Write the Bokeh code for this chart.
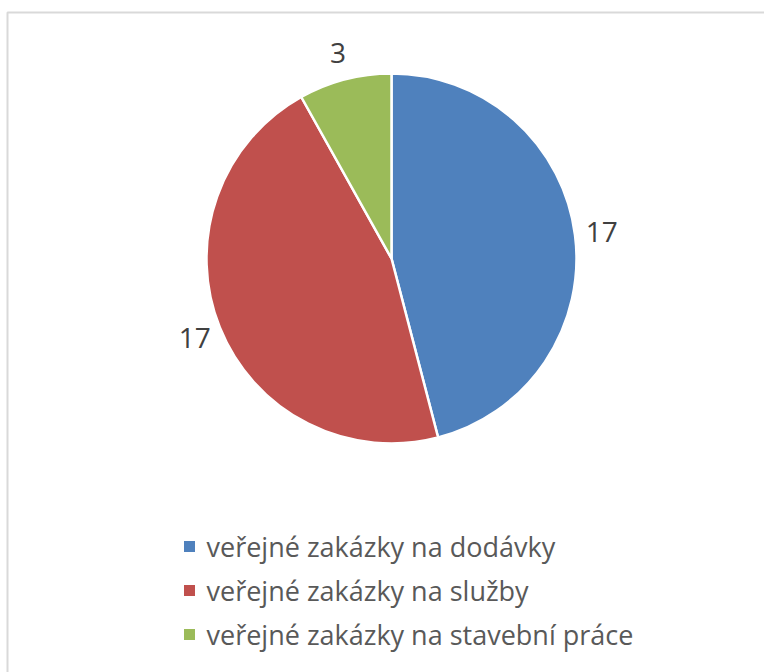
import math
from bokeh.plotting import figure
from bokeh.models import Range1d, ColumnDataSource
from bokeh.core.properties import value
from bokeh.embed import file_html
from bokeh.resources import INLINE

categories = ["veřejné zakázky na dodávky", "veřejné zakázky na služby", "veřejné zakázky na stavební práce"]
values = [17, 17, 3]
colors = ["#4f81bd", "#c0504d", "#9bbb59"]

W, H = 764, 672
FONT = "Open Sans"

p = figure(width=W, height=H, output_backend="svg", toolbar_location=None,
           x_range=Range1d(0, W), y_range=Range1d(0, H),
           min_border=0, min_border_left=0, min_border_right=0,
           min_border_top=0, min_border_bottom=0)
p.axis.visible = False
p.grid.visible = False
p.outline_line_color = None
p.background_fill_color = "white"
p.border_fill_color = "white"

# chart frame (left and top edges visible)
p.line([7, 7, W + 10], [-10, H - 12, H - 12], line_color="#d9d9d9", line_width=2)

cx, cy, r = 391, H - 258, 185
total = sum(values)
starts, ends, mids = [], [], []
cum = 0
for v in values:
    a0 = math.pi / 2 - 2 * math.pi * cum / total
    cum += v
    a1 = math.pi / 2 - 2 * math.pi * cum / total
    starts.append(a0)
    ends.append(a1)
    mids.append((a0 + a1) / 2)

src = ColumnDataSource(dict(start=starts, end=ends, color=colors))
p.wedge(x=cx, y=cy, radius=r, start_angle="start", end_angle="end",
        direction="clock", fill_color="color", line_color="white",
        line_width=2.5, source=src)

# data labels (outside end)
lr = 212
lx = [cx + lr * math.cos(m) for m in mids]
ly = [cy + lr * math.sin(m) for m in mids]
lsrc = ColumnDataSource(dict(x=lx, y=ly, t=[str(v) for v in values]))
p.text(x="x", y="y", text="t", text_align="center", text_baseline="middle",
       text_font=value(FONT), text_font_size="28px", text_color="#404040", source=lsrc)

# legend
leg_x, leg_y0, leg_dy = 189, H - 546, 44
gy = [leg_y0 - i * leg_dy for i in range(len(categories))]
p.rect(x=[leg_x] * len(categories), y=gy, width=11, height=11, fill_color=colors, line_color=None)
p.text(x=[leg_x + 17] * len(categories), y=gy, text=categories, text_baseline="middle",
       text_font=value(FONT), text_font_size="27px", text_color="#595959")

open("out.html", "w").write(file_html(p, INLINE))
